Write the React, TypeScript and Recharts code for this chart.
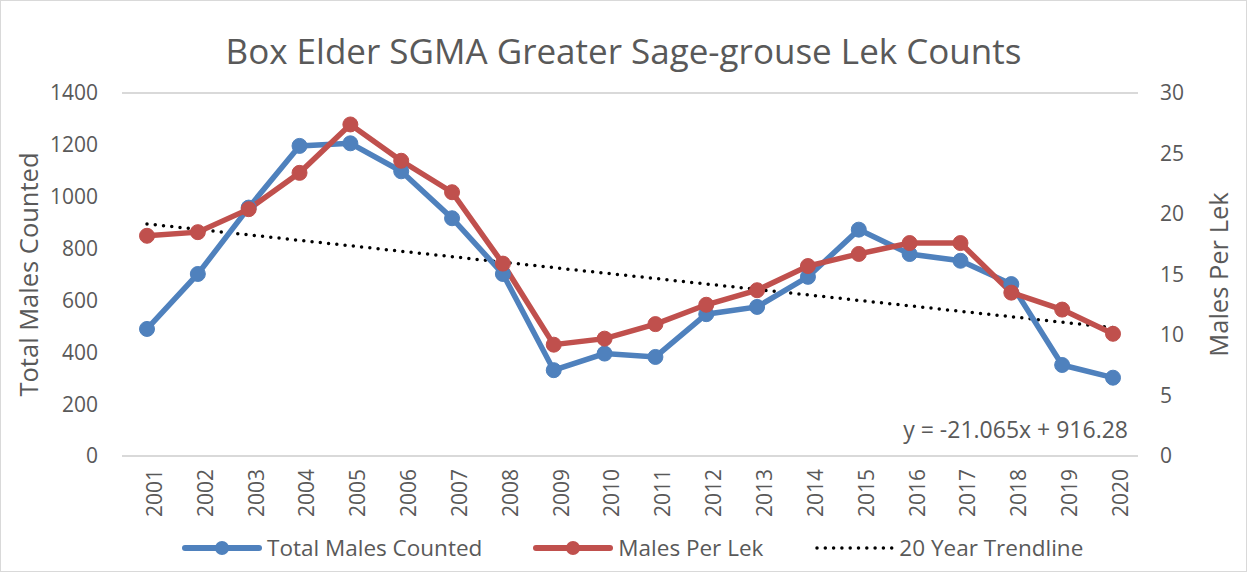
import React from 'react';
import { LineChart, Line, XAxis, YAxis, CartesianGrid, Legend } from 'recharts';

const years = ['2001', '2002', '2003', '2004', '2005', '2006', '2007', '2008', '2009', '2010',
  '2011', '2012', '2013', '2014', '2015', '2016', '2017', '2018', '2019', '2020'];
const totalMales = [490, 702, 958, 1196, 1206, 1098, 917, 702, 331, 395,
  382, 547, 575, 691, 873, 779, 753, 663, 351, 302];
const malesPerLek = [18.2, 18.5, 20.4, 23.4, 27.4, 24.4, 21.8, 15.9, 9.2, 9.7,
  10.9, 12.5, 13.7, 15.7, 16.7, 17.6, 17.6, 13.5, 12.1, 10.1];
// trendline drawn between its two ends (y = -21.065x + 916.28)
const trendEnds = [895, 495];
const leftTicks = [0, 200, 400, 600, 800, 1000, 1200, 1400];
const rightTicks = [0, 5, 10, 15, 20, 25, 30];

const data = years.map((year, i) => ({
  year,
  total: totalMales[i],
  perLek: malesPerLek[i],
  trend: i === 0 ? trendEnds[0] : i === years.length - 1 ? trendEnds[1] : null,
}));

const FONT = '"Open Sans", sans-serif';
const GRAY = '#595959';
const BLUE = '#4F81BD';
const RED = '#C0504D';

const legendItems = [
  { label: 'Total Males Counted', color: BLUE, kind: 'marker' },
  { label: 'Males Per Lek', color: RED, kind: 'marker' },
  { label: '20 Year Trendline', color: '#000', kind: 'dots' },
];

const renderLegend = () => (
  <div style={{ display: 'flex', justifyContent: 'flex-start', gap: 51, paddingLeft: 181, paddingTop: 8,
    fontFamily: FONT, fontSize: 22.5, color: GRAY }}>
    {legendItems.map((item) => (
      <div key={item.label} style={{ display: 'flex', alignItems: 'center', gap: 5 }}>
        <svg width={80} height={20}>
          {item.kind === 'marker' ? (
            <>
              <line x1={3} y1={10} x2={77} y2={10} stroke={item.color} strokeWidth={6} strokeLinecap="round" />
              <circle cx={40} cy={10} r={7} fill={item.color} />
            </>
          ) : (
            <line x1={3} y1={10} x2={78} y2={10} stroke={item.color} strokeWidth={3.5} strokeDasharray="0 8.3" strokeLinecap="round" />
          )}
        </svg>
        <span>{item.label}</span>
      </div>
    ))}
  </div>
);

const sideTitle = (text: string, side: 'left' | 'right') => (props: any) => {
  const vb = props.viewBox;
  const y = vb.y + vb.height / 2;
  const x = side === 'left' ? 27 : 1217;
  return (
    <text x={x} y={y} transform={`rotate(-90 ${x} ${y})`} textAnchor="middle" dominantBaseline="central"
      fill={GRAY} fontSize={25.5} fontFamily={FONT}>
      {text}
    </text>
  );
};

export default function App() {
  return (
    <div style={{ position: 'absolute', top: 0, left: 0, width: 1245, height: 570, border: '1px solid #d9d9d9', background: '#fff' }}>
      <div style={{ position: 'absolute', top: 26, left: 0, width: 1245, textAlign: 'center', fontFamily: FONT, fontSize: 35, color: GRAY }}>
        Box Elder SGMA Greater Sage-grouse Lek Counts
      </div>
      <LineChart width={1245} height={570} data={data} margin={{ top: 92, right: 46, bottom: 4, left: 0 }}>
        <CartesianGrid vertical={false} stroke="#d9d9d9" strokeWidth={2} />
        <XAxis dataKey="year" axisLine={false} tickLine={false} interval={0} height={68} angle={-90}
          padding={{ left: 25, right: 25 }} textAnchor="end" dy={-7} tickMargin={14}
          tick={{ fill: GRAY, fontSize: 21, fontFamily: FONT }} />
        <YAxis yAxisId="left" domain={[0, 1400]} ticks={leftTicks} width={121} axisLine={false} tickLine={false}
          tickMargin={18} tick={{ fill: GRAY, fontSize: 21, fontFamily: FONT }} label={sideTitle('Total Males Counted', 'left')} />
        <YAxis yAxisId="right" orientation="right" domain={[0, 30]} ticks={rightTicks} width={62} axisLine={false}
          tickLine={false} tickMargin={16} tick={{ fill: GRAY, fontSize: 21, fontFamily: FONT, textAnchor: 'start' }}
          label={sideTitle('Males Per Lek', 'right')} />
        <Legend verticalAlign="bottom" height={43} content={renderLegend} />
        <Line yAxisId="left" dataKey="trend" stroke="#000" strokeWidth={3.5} strokeDasharray="0 8.3" strokeLinecap="round"
          connectNulls dot={false} isAnimationActive={false} />
        <Line yAxisId="left" dataKey="total" stroke={BLUE} strokeWidth={5.5} dot={{ r: 7.5, fill: BLUE, stroke: BLUE, strokeWidth: 1 }}
          isAnimationActive={false} />
        <Line yAxisId="right" dataKey="perLek" stroke={RED} strokeWidth={5.5} dot={{ r: 7.5, fill: RED, stroke: RED, strokeWidth: 1 }}
          isAnimationActive={false} />
        <text x={1127} y={437} textAnchor="end" fill={GRAY} fontSize={23} fontFamily={FONT}>y = -21.065x + 916.28</text>
      </LineChart>
    </div>
  );
}
